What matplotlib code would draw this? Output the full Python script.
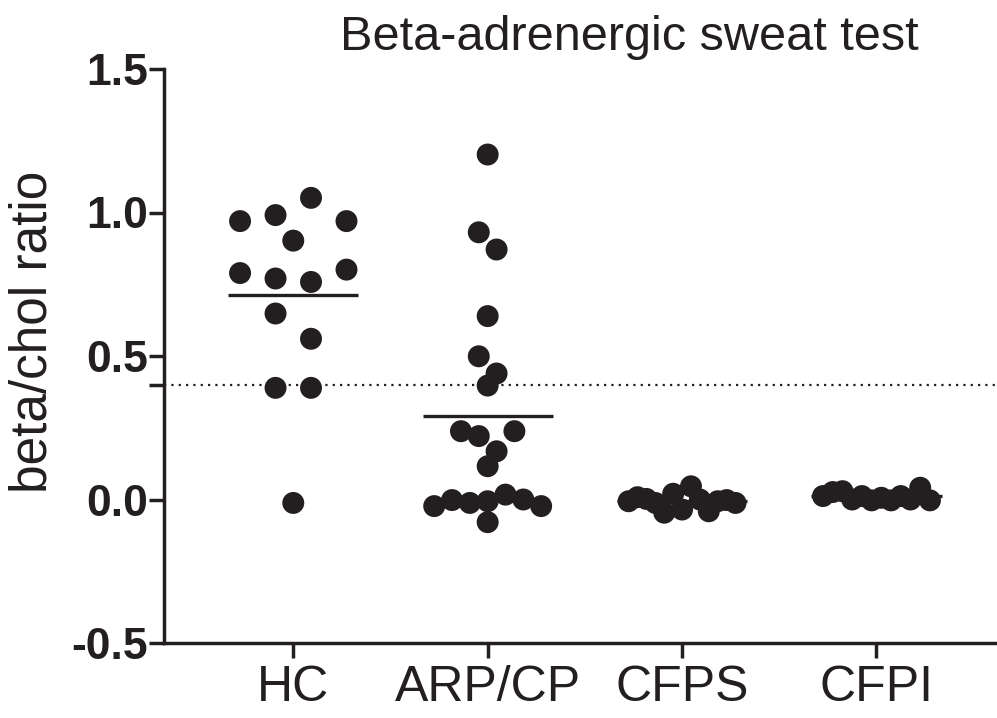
import matplotlib
matplotlib.use("Agg")
import matplotlib.pyplot as plt
import numpy as np

plt.rcParams['font.family'] = ['Liberation Sans', 'DejaVu Sans']
plt.rcParams['axes.unicode_minus'] = False

INK = '#231f20'

groups = ["HC", "ARP/CP", "CFPS", "CFPI"]
title = "Beta-adrenergic sweat test"
y_label = "beta/chol ratio"
y_ticks = [-0.5, 0.0, 0.5, 1.0, 1.5]
threshold = 0.4

# values, row by row (top to bottom, left to right)
hc = [0.970, 0.991, 1.051, 0.970, 0.902, 0.789, 0.770, 0.758, 0.801,
      0.648, 0.560, 0.389, 0.389, -0.012]
arp_cp = [1.202, 0.931, 0.871, 0.639, 0.499, 0.439, 0.397, 0.238, 0.221,
          0.168, 0.238, 0.116, -0.023, -0.002, -0.012, -0.006, 0.017,
          0.000, -0.023, -0.079]
cfps = [-0.006, 0.008, 0.002, -0.012, -0.046, 0.020, -0.035, 0.046,
        0.000, -0.041, -0.006, -0.002, -0.012]
cfpi = [0.012, 0.026, 0.029, 0.000, 0.012, -0.003, 0.006, -0.003, 0.012,
        0.000, 0.041, -0.003]


def scatter_offsets(values, row_height=0.095, step=0.1825, max_span=0.55):
    # Prism-like layout: bin close values into rows, spread each row evenly
    values = np.asarray(values)
    order = np.argsort(-values, kind='stable')
    rows = []
    current = [order[0]]
    for idx in order[1:]:
        if values[current[0]] - values[idx] < row_height:
            current.append(idx)
        else:
            rows.append(current)
            current = [idx]
    rows.append(current)
    widest = max(len(r) for r in rows)
    spacing = step if widest < 2 else min(step, max_span / (widest - 1))
    offsets = np.zeros(len(values))
    for r in rows:
        r = sorted(r)
        n = len(r)
        for k, idx in enumerate(r):
            offsets[idx] = (k - (n - 1) / 2) * spacing
    return offsets


fig = plt.figure(figsize=(9.97, 7.18), dpi=100)
ax = fig.add_axes([164 / 997, 1 - 643 / 718, (997 - 164) / 997, (643 - 69) / 718])

ax.axhline(threshold, color=INK, lw=1.6, linestyle=(0, (1, 2.3)), zorder=1)

for pos, vals in enumerate([hc, arp_cp, cfps, cfpi]):
    x = pos + scatter_offsets(vals)
    ax.scatter(x, vals, s=250, color=INK, edgecolors='none', zorder=3)
    m = np.mean(vals)
    ax.plot([pos - 0.335, pos + 0.335], [m, m], color=INK, lw=2.4,
            solid_capstyle='butt', zorder=2)

ax.set_xlim(-0.665, 3.62)
ax.set_ylim(-0.5, 1.5)

ax.set_xticks(range(len(groups)))
ax.set_xticklabels(groups, fontsize=36, color=INK)
ax.set_yticks(y_ticks)
ax.set_yticklabels([f"{t:.1f}" for t in y_ticks], fontsize=32,
                   fontweight='bold', color=INK)
ax.set_yticks([threshold], minor=True)

ax.tick_params(axis='both', which='both', direction='out', length=11,
               width=2.5, color=INK)
ax.tick_params(axis='y', pad=0.5)
ax.tick_params(axis='x', pad=5)

for side in ['top', 'right']:
    ax.spines[side].set_visible(False)
for side in ['left', 'bottom']:
    ax.spines[side].set_linewidth(2.5)
    ax.spines[side].set_color(INK)

fig.text(33 / 997, 1 - 332 / 718, y_label, fontsize=37, color=INK,
         rotation=90, ha='center', va='center')

fig.text(629 / 997, 1 - 37 / 718, title, fontsize=35, color=INK,
         ha='center', va='center')

fig.savefig('out.png', dpi=100)
